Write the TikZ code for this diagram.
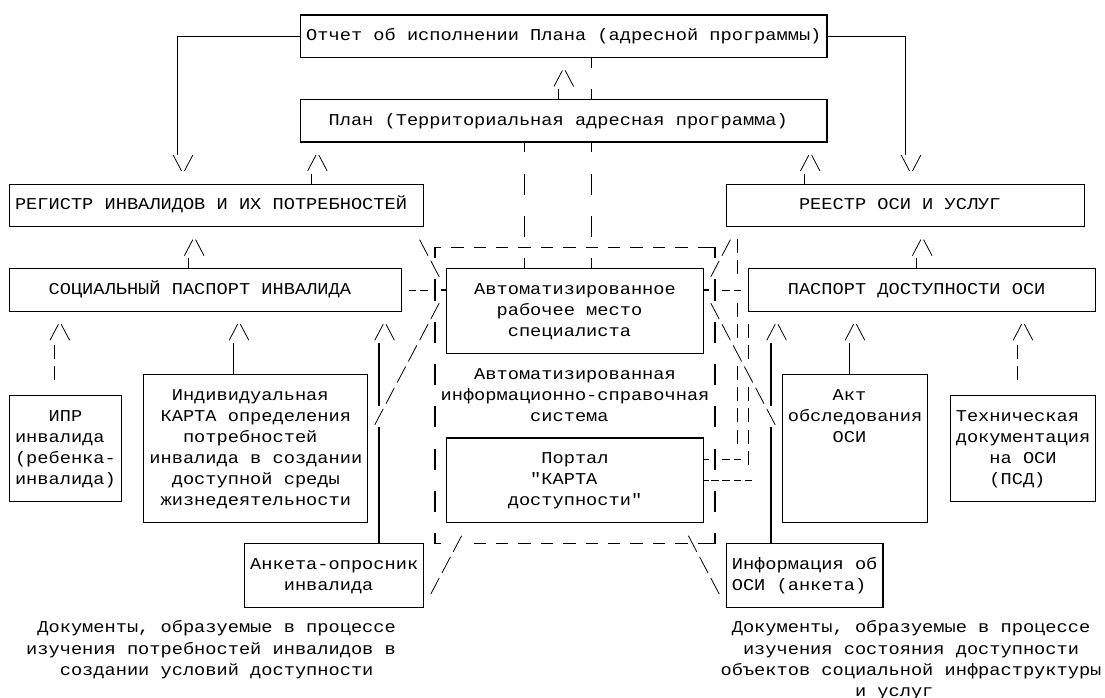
\documentclass[tikz,border=0pt]{standalone}
\usepackage{fontspec}
\newfontfamily\cour{Liberation Mono}[FakeStretch=1.13]
\newcommand\XC[1]{{9.4+11.2*(#1)}}
\newcommand\XL[1]{{3.8+11.2*(#1)}}
\newcommand\YR[1]{{15+21.15*(#1)}}
\tikzset{
 ln/.style={line width=1.2pt},
 sl/.style={line width=0.8pt},
 box/.style={draw, line width=1.2pt, inner sep=0pt, outer sep=0pt},
 txt/.style={anchor=base west, inner sep=0pt, outer sep=0pt, font=\cour\fontsize{16.52pt}{21pt}\selectfont},
}
\newcommand\rkBOX[5]{\node[box, minimum width={11.2*(#3-#2)}, minimum height={21.15*(#5-#4)}] (#1) at ({9.4+11.2*(#2+#3)/2},{15+21.15*(#4+#5)/2}) {};}
\newcommand\rkTXT[4]{\node[txt] (#1) at ({3.8+11.2*(#2)},{15+21.15*(#3)+4.5}) {#4};}
\newcommand\rkFS[2]{\draw[sl] ({9.4+11.2*(#1)-4.2},{15+21.15*(#2)+8}) -- ++(8.4,-16);}
\newcommand\rkBS[2]{\draw[sl] ({9.4+11.2*(#1)-4.2},{15+21.15*(#2)-8}) -- ++(8.4,16);}
\newcommand\rkUP[2]{\rkFS{#1}{#2}\rkBS{#1+1}{#2}}
\newcommand\rkDN[2]{\rkBS{#1}{#2}\rkFS{#1+1}{#2}}
\newcommand\rkVB[2]{\draw[sl] ({9.4+11.2*(#1)},{15+21.15*(#2)-8.5}) -- ++(0,14);}
\newcommand\rkHY[2]{\draw[sl] ({9.4+11.2*(#1)-3.8},{15+21.15*(#2)+0.5}) -- ++(7.6,0);}
\begin{document}
\begin{tikzpicture}[x=1pt,y=-1pt]
\fill[white] (0,0) rectangle (1105,698);
\useasboundingbox (0,0) rectangle (1105,698);
% boxes
\rkBOX{otchet}{26}{73}{0}{2}
\rkBOX{plan}{26}{73}{4}{6}
\rkBOX{registr}{0}{37}{8}{10}
\rkBOX{reestr}{64}{96}{8}{10}
\rkBOX{socpas}{0}{35}{12}{14}
\rkBOX{arm}{39}{62}{12}{16}
\rkBOX{pasport}{66}{97}{12}{14}
\rkBOX{ipr}{0}{10}{18}{23}
\rkBOX{karta}{12}{32}{17}{24}
\rkBOX{akt}{69}{82}{17}{24}
\rkBOX{tech}{84}{97}{18}{23}
\rkBOX{portal}{39}{62}{20}{24}
\rkBOX{anketa}{21}{37}{25}{28}
\rkBOX{info}{64}{78}{25}{28}
% texts
\rkTXT{t1}{27}{1}{Отчет об исполнении Плана (адресной программы)}
\rkTXT{t2}{29}{5}{План (Территориальная адресная программа)}
\rkTXT{t3}{1}{9}{РЕГИСТР ИНВАЛИДОВ И ИХ ПОТРЕБНОСТЕЙ}
\rkTXT{t4}{71}{9}{РЕЕСТР ОСИ И УСЛУГ}
\rkTXT{t5}{4}{13}{СОЦИАЛЬНЫЙ ПАСПОРТ ИНВАЛИДА}
\rkTXT{t6}{42}{13}{Автоматизированное}
\rkTXT{t7}{70}{13}{ПАСПОРТ ДОСТУПНОСТИ ОСИ}
\rkTXT{t8}{44}{14}{рабочее место}
\rkTXT{t9}{45}{15}{специалиста}
\rkTXT{t10}{42}{17}{Автоматизированная}
\rkTXT{t11}{15}{18}{Индивидуальная}
\rkTXT{t12}{39}{18}{информационно-справочная}
\rkTXT{t13}{74}{18}{Акт}
\rkTXT{t14}{4}{19}{ИПР}
\rkTXT{t15}{14}{19}{КАРТА определения}
\rkTXT{t16}{47}{19}{система}
\rkTXT{t17}{70}{19}{обследования}
\rkTXT{t18}{85}{19}{Техническая}
\rkTXT{t19}{1}{20}{инвалида}
\rkTXT{t20}{16}{20}{потребностей}
\rkTXT{t21}{74}{20}{ОСИ}
\rkTXT{t22}{85}{20}{документация}
\rkTXT{t23}{1}{21}{(ребенка-}
\rkTXT{t24}{13}{21}{инвалида в создании}
\rkTXT{t25}{48}{21}{Портал}
\rkTXT{t26}{88}{21}{на ОСИ}
\rkTXT{t27}{1}{22}{инвалида)}
\rkTXT{t28}{15}{22}{доступной среды}
\rkTXT{t29}{47}{22}{"КАРТА}
\rkTXT{t30}{88}{22}{(ПСД)}
\rkTXT{t31}{14}{23}{жизнедеятельности}
\rkTXT{t32}{45}{23}{доступности"}
\rkTXT{t33}{22}{26}{Анкета-опросник}
\rkTXT{t34}{65}{26}{Информация об}
\rkTXT{t35}{25}{27}{инвалида}
\rkTXT{t36}{65}{27}{ОСИ (анкета)}
\rkTXT{t37}{3}{29}{Документы, образуемые в процессе}
\rkTXT{t38}{65}{29}{Документы, образуемые в процессе}
\rkTXT{t39}{2}{30}{изучения потребностей инвалидов в}
\rkTXT{t40}{66}{30}{изучения состояния доступности}
\rkTXT{t41}{5}{31}{создании условий доступности}
\rkTXT{t42}{64}{31}{объектов социальной инфраструктуры}
\rkTXT{t43}{76}{32}{и услуг}
% solid connectors
\coordinate (aL) at (\XC{15},\YR{6.6});
\coordinate (aR) at (\XC{80},\YR{6.6});
\draw[ln] (otchet.west) -| (aL);
\draw[ln] (otchet.east) -| (aR);
\draw[ln] (\XC{49},\YR{3.5}) -- (\XC{49},0 |- plan.north);
\draw[ln] (\XC{27},\YR{7.5}) -- (\XC{27},0 |- registr.north);
\draw[ln] (\XC{71},\YR{7.5}) -- (\XC{71},0 |- reestr.north);
\draw[ln] (\XC{16},\YR{11.5}) -- (\XC{16},0 |- socpas.north);
\draw[ln] (\XC{81},\YR{11.5}) -- (\XC{81},0 |- pasport.north);
\draw[ln] (\XC{20},\YR{15.5}) -- (\XC{20},0 |- karta.north);
\draw[ln] (\XC{75},\YR{15.5}) -- (\XC{75},0 |- akt.north);
\draw[ln] (\XC{33},\YR{15.5}) -- (\XC{33},\YR{18.5});
\draw[ln] (\XC{33},\YR{19.5}) -- (\XC{33},0 |- anketa.north);
\draw[ln] (\XC{68},\YR{15.5}) -- (\XC{68},\YR{18.5});
\draw[ln] (\XC{68},\YR{19.5}) -- (\XC{68},0 |- info.north);
% stubs on ARM / Portal
\draw[ln] (arm.west |- 0,\YR{13}) -- ++(-5.6,0);
\draw[ln] (arm.east |- 0,\YR{13}) -- ++(5.6,0);
\draw[ln] (portal.east |- 0,\YR{21}) -- ++(5.6,0);
\draw[ln] (portal.east |- 0,\YR{22}) -- ++(5.6,0);
% dashed verticals (box drawing, alternate rows)
\draw[ln] (\XC{52},0 |- otchet.south) -- (\XC{52},\YR{2.5});
\draw[ln] (\XC{52},\YR{3.5}) -- (\XC{52},0 |- plan.north);
\foreach \c in {46,52} {
 \draw[ln] (\XC{\c},0 |- plan.south) -- (\XC{\c},\YR{6.5});
 \draw[ln] (\XC{\c},\YR{7.5}) -- (\XC{\c},\YR{8.5});
 \draw[ln] (\XC{\c},\YR{9.5}) -- (\XC{\c},\YR{10.5});
 \draw[ln] (\XC{\c},\YR{11.5}) -- (\XC{\c},0 |- arm.north);
}
% AIS dashed frame
\draw[ln] (\XC{38},\YR{11.5}) -- (\XC{38},\YR{11}) -- (\XC{38.5},\YR{11});
\draw[ln] (\XC{62.5},\YR{11}) -- (\XC{63},\YR{11}) -- (\XC{63},\YR{11.5});
\draw[ln] (\XC{38},\YR{24.5}) -- (\XC{38},\YR{25}) -- (\XC{38.5},\YR{25});
\draw[ln] (\XC{62.5},\YR{25}) -- (\XC{63},\YR{25}) -- (\XC{63},\YR{24.5});
\foreach \k in {40,42,...,62} \draw[ln] ({9.4+11.2*\k-6.2},\YR{11}) -- ++(12.4,0);
\foreach \k in {42,44,...,62} \draw[ln] ({9.4+11.2*\k-6.2},\YR{25}) -- ++(12.4,0);
\foreach \r in {13,15,...,23} {
 \draw[ln] (\XC{38},\YR{\r-0.5}) -- (\XC{38},\YR{\r+0.5});
 \draw[ln] (\XC{63},\YR{\r-0.5}) -- (\XC{63},\YR{\r+0.5});
}
% arrowheads
\rkUP{49}{3}
\rkDN{15}{7}
\rkUP{27}{7}
\rkUP{71}{7}
\rkDN{80}{7}
\rkUP{16}{11}
\rkUP{81}{11}
\rkUP{4}{15}
\rkUP{20}{15}
\rkUP{33}{15}
\rkUP{68}{15}
\rkUP{75}{15}
\rkUP{90}{15}
% diagonals
\rkBS{37}{11} \rkBS{38}{12}
\rkFS{38}{14} \rkFS{37}{15} \rkFS{36}{16} \rkFS{35}{17} \rkFS{34}{18} \rkFS{33}{19}
\rkFS{40}{25} \rkFS{39}{26} \rkFS{38}{27}
\rkFS{64}{11} \rkFS{63}{12}
\rkBS{63}{14} \rkBS{64}{15} \rkBS{65}{16} \rkBS{66}{17} \rkBS{67}{18} \rkBS{68}{19}
\rkBS{61}{25} \rkBS{62}{26} \rkBS{63}{27}
% short bars
\rkVB{4}{16} \rkVB{4}{17}
\rkVB{90}{16} \rkVB{90}{17}
\foreach \r in {11,12,14,15,17,18,19,20} {\rkVB{65}{\r}}
\foreach \r in {15,16,18,19,20,21} {\rkVB{66}{\r}}
% hyphens
\rkHY{36}{13} \rkHY{37}{13} \rkHY{64}{13} \rkHY{65}{13}
\rkHY{64}{21} \rkHY{65}{21}
\rkHY{63}{22} \rkHY{64}{22} \rkHY{65}{22} \rkHY{66}{22}
\end{tikzpicture}
\end{document}
